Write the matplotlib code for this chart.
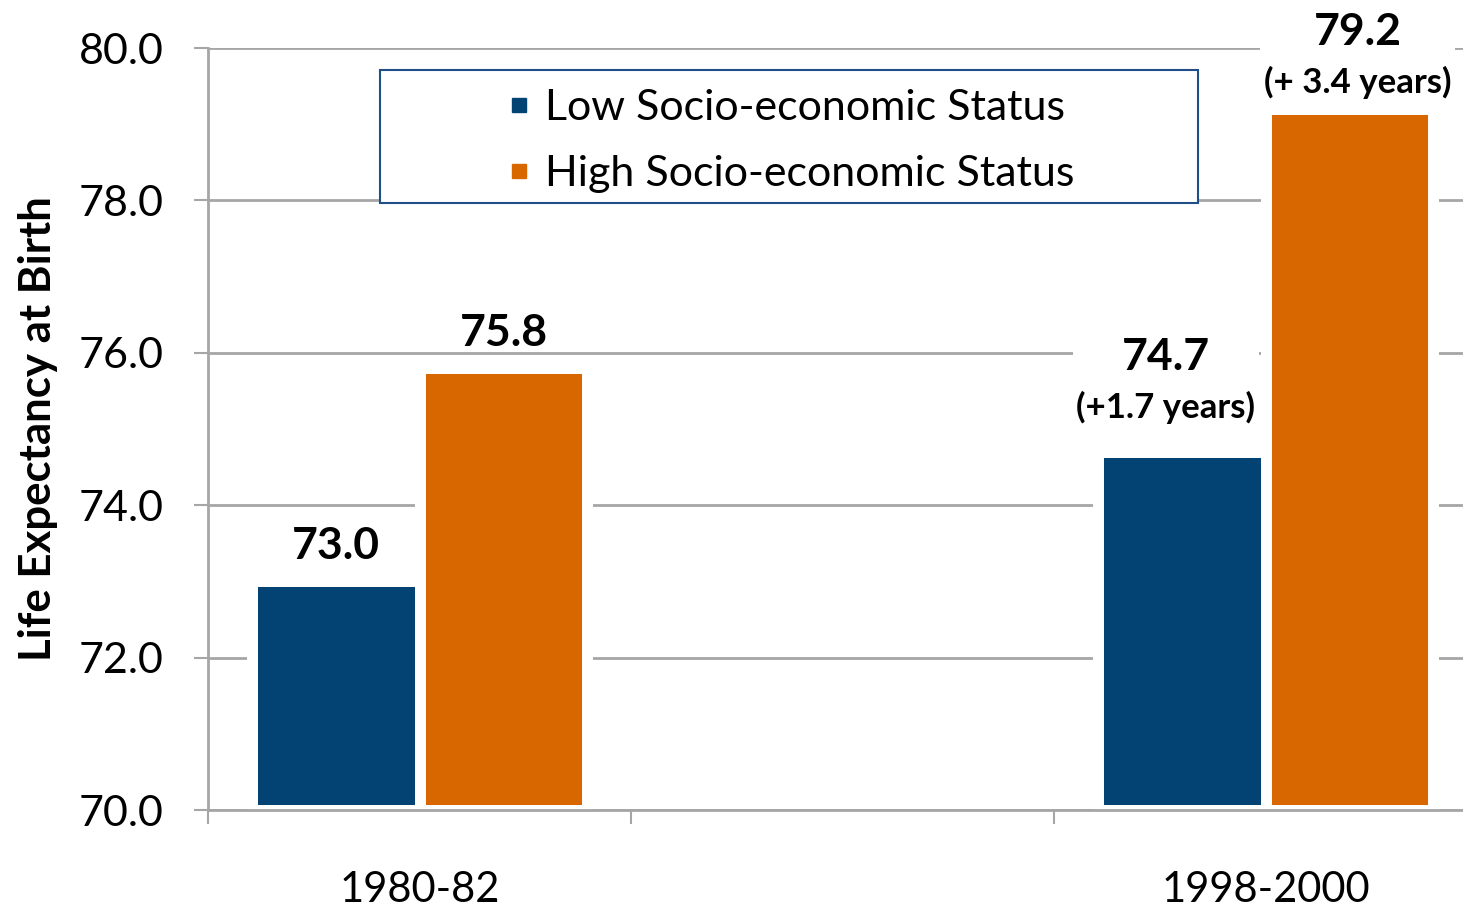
import numpy as np
import matplotlib
matplotlib.use("Agg")
from matplotlib import pyplot as plt
from matplotlib.lines import Line2D
from matplotlib.patches import Rectangle
from matplotlib.offsetbox import TextArea, VPacker, AnnotationBbox

plt.rcParams['font.family'] = ['Lato', 'DejaVu Sans']

# data
periods = ["1980-82", "", "1998-2000"]
low_ses = [73.0, None, 74.7]
high_ses = [75.8, None, 79.2]
low_notes = ["", "", "(+1.7 years)"]
high_notes = ["", "", "(+ 3.4 years)"]
series_names = ["Low Socio-economic Status", "High Socio-economic Status"]
yticks = [70, 72, 74, 76, 78, 80]

BLUE = "#024374"
ORANGE = "#D86700"
GRID = "#A6A6A6"

fig = plt.figure(figsize=(14.63, 9.08), dpi=100)
ax = fig.add_axes([208 / 1463, 1 - 810 / 908, 1269 / 1463, 762 / 908])

x = np.arange(len(periods))
w = 0.397
idx = [i for i in x if low_ses[i] is not None]
lows = [low_ses[i] for i in idx]
highs = [high_ses[i] for i in idx]
ax.bar(np.array(idx) - w / 2, np.array(lows) - 70, w, bottom=70, color=BLUE,
       edgecolor="white", linewidth=7.9, zorder=2)
ax.bar(np.array(idx) + w / 2, np.array(highs) - 70, w, bottom=70, color=ORANGE,
       edgecolor="white", linewidth=7.9, zorder=2)

ax.set_xlim(-0.5, 2.5)
ax.set_ylim(70, 80)
ax.set_yticks(yticks)
ax.set_yticklabels([f"{v:.1f}" for v in yticks])
ax.set_xticks(x)
ax.set_xticklabels(periods)
ax.set_xticks([-0.5, 0.5, 1.5], minor=True)

ax.grid(axis="y", color=GRID, linewidth=2, zorder=0)
ax.set_axisbelow(True)
for s in ["top", "right"]:
    ax.spines[s].set_visible(False)
for s in ["left", "bottom"]:
    ax.spines[s].set_color(GRID)
    ax.spines[s].set_linewidth(2)

ax.tick_params(axis="y", length=10, width=1.5, color=GRID, pad=22, labelsize=31)
ax.tick_params(axis="x", which="major", length=0, pad=44, labelsize=30)
ax.tick_params(axis="x", which="minor", length=10, width=1.5, color=GRID)

ax.set_ylabel("Life Expectancy at Birth", fontsize=31.5, fontweight="bold", labelpad=15)

def label(xpos, val, note, dx, gap):
    if note:
        box = VPacker(children=[
            TextArea(f"{val:.1f}", textprops=dict(fontsize=32, fontweight="bold")),
            TextArea(note, textprops=dict(fontsize=25, fontweight="bold"))],
            align="center", pad=0, sep=10)
        ab = AnnotationBbox(box, (xpos, val), xybox=(dx, gap), xycoords="data",
                            boxcoords="offset pixels", box_alignment=(0.5, 0),
                            pad=0.25, bboxprops=dict(facecolor="white", edgecolor="none"),
                            zorder=3)
        ax.add_artist(ab)
    else:
        ax.annotate(f"{val:.1f}", (xpos, val), xytext=(dx, gap), textcoords="offset pixels",
                    ha="center", va="baseline", fontsize=32, fontweight="bold", zorder=3)

for i in idx:
    label(i - w / 2, low_ses[i], low_notes[i], -16 if low_notes[i] else 0,
          28 if low_notes[i] else 22)
    label(i + w / 2, high_ses[i], high_notes[i], 8 if high_notes[i] else 0,
          10 if high_notes[i] else 22)

# legend box
ax.add_patch(Rectangle((380 / 1463, 1 - 203 / 908), 818 / 1463, 133 / 908,
                       transform=fig.transFigure, facecolor="white",
                       edgecolor="#1F4E89", linewidth=1.5, zorder=4, clip_on=False))
handles = [Line2D([], [], marker="s", linestyle="none", color=c, markersize=10)
           for c in [BLUE, ORANGE]]
leg = ax.legend(handles, series_names, loc="center", frameon=False, fontsize=31,
                bbox_to_anchor=(791 / 1463, 1 - 141 / 908), bbox_transform=fig.transFigure,
                handlelength=0.5, handletextpad=0.35, labelspacing=0.66)
leg.set_zorder(5)

fig.savefig("out.png", dpi=100)
